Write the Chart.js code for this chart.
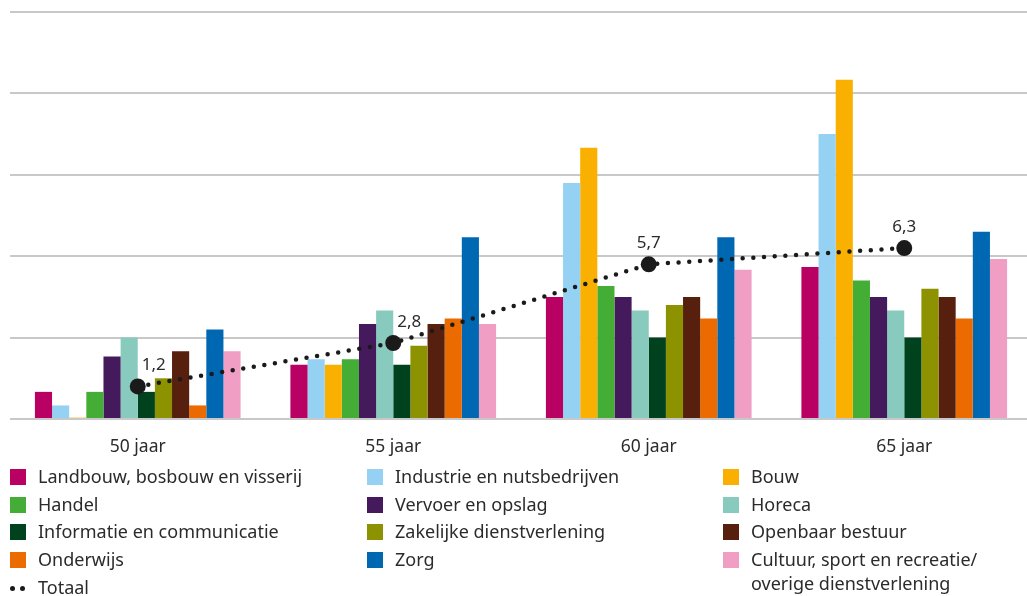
<!DOCTYPE html>
<html lang="nl">
<head>
<meta charset="utf-8">
<script src="https://cdn.jsdelivr.net/npm/chart.js@4/dist/chart.umd.min.js"></script>
<style>
	html, body {
		margin: 0;
		padding: 0;
		width: 1027px;
		height: 596px;
		overflow: hidden;
		background: #ffffff;
		font-family: "Noto Sans", sans-serif;
		color: #2b2b2b;
	}

	.chart-box {
		position: absolute;
		left: 0;
		top: 0;
		width: 1040px;
		height: 468px;
	}

	.legend {
		position: absolute;
		left: 10px;
		top: 464px;
		display: grid;
		grid-template-columns: 357px 356px 300px;
		grid-auto-rows: 27.7px;
		font-size: 18px;
		line-height: 24px;
	}

	.legend-item {
		display: flex;
		align-items: flex-start;
		white-space: nowrap;
	}

	.swatch {
		width: 16px;
		height: 16px;
		margin-top: 5px;
		margin-right: 12px;
		flex: none;
	}

	.dots {
		width: 16px;
		height: 16px;
		margin-top: 5px;
		margin-right: 12px;
		flex: none;
		position: relative;
	}

	.dots span {
		position: absolute;
		top: 6px;
		width: 5px;
		height: 5px;
		border-radius: 50%;
		background: #1a1a1a;
	}
</style>
</head>
<body>
<div class="chart-box"><canvas id="chart"></canvas></div>
<div class="legend" id="legend"></div>

<script>
	// Leeftijdsgroepen
	const categories = ["50 jaar", "55 jaar", "60 jaar", "65 jaar"]

	// Sectoren (volgorde zoals in de legenda)
	const landbouw = [1.0, 2.0, 4.5, 5.6]
	const industrie = [0.5, 2.2, 8.7, 10.5]
	const bouw = [0.05, 2.0, 10.0, 12.5]
	const handel = [1.0, 2.2, 4.9, 5.1]
	const vervoer = [2.3, 3.5, 4.5, 4.5]
	const horeca = [3.0, 4.0, 4.0, 4.0]
	const informatie = [1.0, 2.0, 3.0, 3.0]
	const zakelijk = [1.5, 2.7, 4.2, 4.8]
	const openbaar = [2.5, 3.5, 4.5, 4.5]
	const onderwijs = [0.5, 3.7, 3.7, 3.7]
	const zorg = [3.3, 6.7, 6.7, 6.9]
	const cultuur = [2.5, 3.5, 5.5, 5.9]

	const totaal = [1.2, 2.8, 5.7, 6.3]

	const series_names = [
		"Landbouw, bosbouw en visserij",
		"Industrie en nutsbedrijven",
		"Bouw",
		"Handel",
		"Vervoer en opslag",
		"Horeca",
		"Informatie en communicatie",
		"Zakelijke dienstverlening",
		"Openbaar bestuur",
		"Onderwijs",
		"Zorg",
		"Cultuur, sport en recreatie/\noverige dienstverlening"
	]
	const series_values = [
		landbouw, industrie, bouw, handel, vervoer, horeca,
		informatie, zakelijk, openbaar, onderwijs, zorg, cultuur
	]
	const series_colors = [
		"#b90063", "#94d1f3", "#f9b000", "#44ad35", "#451a5c", "#88cbbe",
		"#00411e", "#8d9300", "#561f0e", "#eb6b00", "#0068b2", "#f09ec4"
	]

	const text_color = "#2b2b2b"
	const grid_color = "#c8c8c8"

	/**
	 * Value labels above the Totaal points
	 */
	const total_labels = {
		id: "total_labels",
		afterDatasetsDraw(chart) {
			const idx = chart.data.datasets.findIndex(d => d.type === "line")
			const meta = chart.getDatasetMeta(idx)
			const dx = [16, 16, 0, 0]
			const ctx = chart.ctx

			ctx.save()
			ctx.font = "17px 'Noto Sans', sans-serif"
			ctx.fillStyle = text_color
			ctx.textAlign = "center"
			ctx.textBaseline = "middle"
			meta.data.forEach((pt, i) => {
				const txt = totaal[i].toFixed(1).replace(".", ",")
				ctx.fillText(txt, pt.x + dx[i], pt.y - 21)
			})
			ctx.restore()
		}
	}

	const datasets = series_values.map((values, i) => ({
		type: "bar",
		label: series_names[i],
		data: values,
		backgroundColor: series_colors[i],
		borderWidth: 0,
		categoryPercentage: 0.805,
		barPercentage: 1.0,
		order: 1
	}))

	datasets.push({
		type: "line",
		label: "Totaal",
		data: totaal,
		borderColor: "#1a1a1a",
		borderWidth: 4.5,
		borderCapStyle: "round",
		borderDash: [0, 10.7],
		pointRadius: 8,
		pointHoverRadius: 8,
		pointBackgroundColor: "#1a1a1a",
		pointBorderWidth: 0,
		tension: 0,
		fill: false,
		order: 0
	})

	new Chart(document.getElementById("chart"), {
		type: "bar",
		data: {
			labels: categories,
			datasets
		},
		options: {
			responsive: true,
			maintainAspectRatio: false,
			animation: false,
			layout: {
				padding: { left: 10, right: 1, top: 12, bottom: 0 }
			},
			plugins: {
				legend: { display: false },
				tooltip: { enabled: false }
			},
			scales: {
				x: {
					grid: { display: false },
					border: { display: false },
					ticks: {
						color: text_color,
						font: { family: "'Noto Sans', sans-serif", size: 17.5 },
						padding: 10
					}
				},
				y: {
					min: 0,
					max: 15,
					border: { display: false },
					grid: {
						color: grid_color,
						lineWidth: 2,
						drawTicks: false
					},
					ticks: {
						display: false,
						stepSize: 3
					}
				}
			}
		},
		plugins: [total_labels]
	})

	// HTML legend, three columns, row by row
	const legend = document.getElementById("legend")
	series_names.forEach((name, i) => {
		const item = document.createElement("div")
		item.className = "legend-item"
		const sw = document.createElement("div")
		sw.className = "swatch"
		sw.style.backgroundColor = series_colors[i]
		const label = document.createElement("div")
		label.innerHTML = name.replace("\n", "<br>")
		item.appendChild(sw)
		item.appendChild(label)
		legend.appendChild(item)
	})

	const tot_item = document.createElement("div")
	tot_item.className = "legend-item"
	tot_item.innerHTML = '<div class="dots"><span style="left:0px"></span><span style="left:10px"></span></div><div>Totaal</div>'
	legend.appendChild(tot_item)
</script>
</body>
</html>
